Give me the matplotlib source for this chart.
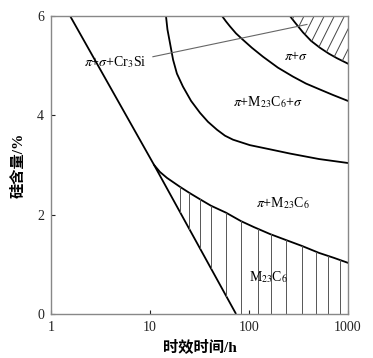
import numpy as np
import matplotlib
matplotlib.use("Agg")
import matplotlib.pyplot as plt
from matplotlib.patches import Polygon

plt.rcParams['font.family'] = ['Liberation Serif', 'Noto Sans CJK SC', 'DejaVu Sans']
plt.rcParams['mathtext.fontset'] = 'stix'

# ---- data ----
xticks = [1, 10, 100, 1000]
xtick_labels = ['1', '10', '100', '1000']
yticks = [0, 2, 4, 6]

# straight boundary (upper branch and lower branch meeting at the junction)
line_upper_x = [1.56, 11.0]
line_upper_y = [6.0, 3.0]
line_lower_x = [11.0, 74.0]
line_lower_y = [3.0, 0.0]

# M23C6 / pi+M23C6 boundary
c1_x = [11.0, 12.6, 14.85, 20.1, 25.4, 32.0, 41.3, 58.6, 83.0, 112.0, 163.0, 236.0, 343.0, 510.0, 722.0, 1000.0]
c1_y = [3.0, 2.86, 2.74, 2.56, 2.43, 2.31, 2.18, 2.04, 1.87, 1.75, 1.61, 1.49, 1.37, 1.23, 1.13, 1.03]

# pi+M23C6 / pi+M23C6+sigma boundary
c2_x = [14.5, 15.0, 15.9, 17.1, 18.7, 21.5, 26.0, 32.0, 38.5, 47.5, 57.2, 68.9, 102.0, 159.0, 260.0, 510.0, 1000.0]
c2_y = [6.0, 5.73, 5.46, 5.12, 4.84, 4.58, 4.29, 4.05, 3.87, 3.71, 3.59, 3.51, 3.40, 3.32, 3.23, 3.12, 3.04]

# pi+M23C6+sigma / pi+sigma boundary
c3_x = [53.4, 58.6, 64.3, 73.9, 87.0, 107.0, 138.5, 196.0, 278.0, 376.0, 521.0, 705.0, 1000.0]
c3_y = [6.0, 5.89, 5.79, 5.65, 5.52, 5.36, 5.18, 4.96, 4.78, 4.64, 4.52, 4.41, 4.29]

# pi+sigma / pi+sigma+Cr3Si boundary
c4_x = [259.0, 291.0, 351.0, 423.0, 521.0, 643.0, 774.0, 1000.0]
c4_y = [6.0, 5.87, 5.67, 5.50, 5.36, 5.24, 5.15, 5.04]

# vertical hatch lines positions in M23C6 field
hatch_x = [20.1, 24.8, 32.0, 41.3, 58.6, 83.0, 123.0, 167.0, 237.0, 343.0, 475.0, 628.0, 830.0]

# labels
labels = [r'$\pi$+$\sigma$', r'$\pi$+M$_{23}$C$_6$+$\sigma$', r'$\pi$+M$_{23}$C$_6$', r'M$_{23}$C$_6$']
label_x = [298, 156, 220, 156]
label_y = [5.18, 4.27, 2.24, 0.75]
cr_label = r'$\pi$+$\sigma$+Cr$_3$Si'
cr_label_xy = (4.43, 5.08)
leader_x = [10.7, 385.0]
leader_y = [5.18, 5.83]

# ---- figure ----
fig = plt.figure(figsize=(3.73, 3.58), dpi=100)
ax = fig.add_axes([51/373, 1-314/358, 297/373, 298/358])
ax.set_xscale('log')
ax.set_xlim(1, 1000)
ax.set_ylim(0, 6)

lw = 1.3
ax.plot(line_upper_x, line_upper_y, color='black', lw=lw, solid_capstyle='butt')
ax.plot(line_lower_x, line_lower_y, color='black', lw=lw, solid_capstyle='butt')
for cx, cy in [(c1_x, c1_y), (c2_x, c2_y), (c3_x, c3_y), (c4_x, c4_y)]:
    ax.plot(cx, cy, color='black', lw=lw, solid_joinstyle='round')

# vertical hatch lines
lx = np.log10(c1_x)
for hx in hatch_x:
    top = np.interp(np.log10(hx), lx, c1_y)
    if hx < line_lower_x[1]:
        bot = np.interp(np.log10(hx), np.log10(line_lower_x), line_lower_y)
    else:
        bot = 0.0
    ax.plot([hx, hx], [bot, top], color='#555555', lw=0.7)

# diagonal hatch in top-right region
poly_pts = list(zip(c4_x, c4_y)) + [(1000.0, 6.0)]
poly = Polygon(poly_pts, closed=True, transform=ax.transData, facecolor='none', edgecolor='none')
ax.add_patch(poly)
for a in np.arange(-0.6, 1.05, 0.034):
    ln, = ax.plot([a, a + 0.5], [0, 1], transform=ax.transAxes, color='#444444', lw=0.7)
    ln.set_clip_path(poly)

# leader line
ax.plot(leader_x, leader_y, color='#666666', lw=0.8)

for t, x, y in zip(labels, label_x, label_y):
    ax.text(x, y, t, ha='center', va='center', fontsize=10)
ax.text(cr_label_xy[0], cr_label_xy[1], cr_label, ha='center', va='center', fontsize=10)

ax.set_xticks(xticks)
ax.set_xticklabels(xtick_labels)
ax.set_yticks(yticks)
ax.xaxis.set_minor_locator(matplotlib.ticker.NullLocator())
ax.tick_params(direction='in', length=3, width=0.8, labelsize=10, colors='#222222', pad=5)
for s in ax.spines.values():
    s.set_color('#888888')
    s.set_linewidth(1.0)

ax.set_xlabel('时效时间/h', fontsize=11, fontweight='bold', labelpad=4)
ax.set_ylabel('硅含量/%', fontsize=11, fontweight='bold', labelpad=8)

fig.savefig('out.png', dpi=100)
